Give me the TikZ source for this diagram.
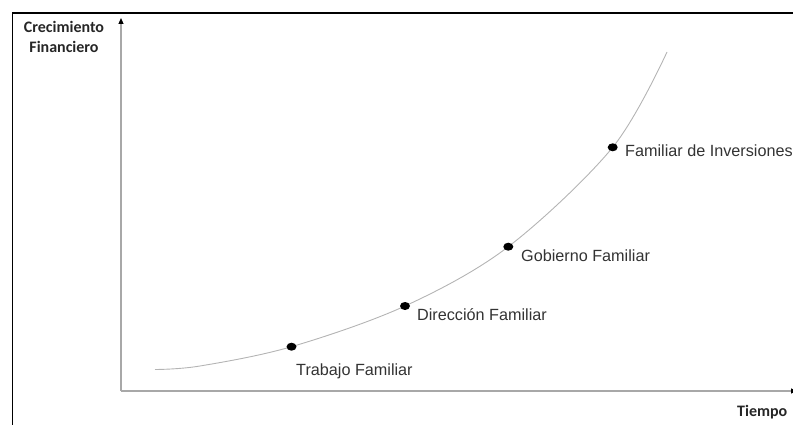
\documentclass[tikz,border=0pt]{standalone}
\usepackage{fontspec}
\setmainfont{Liberation Sans}
\newfontfamily\titlefont{Carlito}
\usetikzlibrary{arrows.meta,shapes.geometric}
\definecolor{axisgray}{HTML}{A8A8A8}
\definecolor{curvegray}{HTML}{B4B4B4}
\definecolor{labelgray}{HTML}{333333}
\tikzset{
  frameline/.style={line width=1.6pt, black},
  axisline/.style={line width=1.1pt, axisgray, -{Triangle[length=6pt,width=5pt,color=black]}},
  growth/.style={line width=0.9pt, curvegray},
  stagedot/.style={ellipse, fill=black, inner sep=0pt, minimum width=10pt, minimum height=8pt},
  stagelabel/.style={anchor=base west, inner sep=0pt, text=labelgray, font=\fontsize{16.2}{19}\selectfont},
  axislabel/.style={inner sep=0pt, anchor=base, text=black!85, font=\titlefont\bfseries\fontsize{16}{20}\selectfont}
}
\begin{document}
\begin{tikzpicture}[x=1pt,y=-1pt]
\useasboundingbox (0,0) rectangle (793,425);
% outer frame (top and left edges)
\coordinate (fa) at (12.5,13);
\coordinate (fb) at (800,13);
\coordinate (fc) at (12.5,430);
\draw[frameline] (fc) -- (fa) -- (fb);
% axes
\coordinate (o) at (121,391);
\coordinate (ytop) at (121,18);
\coordinate (xend) at (797,391);
\draw[axisline] (o) -- (ytop);
\draw[axisline] (o) -- (xend);
% growth curve through the stages
\coordinate (c0) at (155,369.5);
\coordinate (c1) at (200,366);
\coordinate (p1) at (291.5,346.7);
\coordinate (p2) at (405,306);
\coordinate (p3) at (508.3,246.7);
\coordinate (p4) at (612.7,147.3);
\coordinate (c5) at (667,52);
\draw[growth] plot[smooth, tension=0.55] coordinates {(c0) (c1) (p1) (p2) (p3) (p4) (c5)};
\node[stagedot] (s1) at (p1) {};
\node[stagedot] (s2) at (p2) {};
\node[stagedot] (s3) at (p3) {};
\node[stagedot] (s4) at (p4) {};
% stage names
\node[stagelabel] (l1) at (296,375.5) {Trabajo Familiar};
\node[stagelabel] (l2) at (417,320) {Dirección Familiar};
\node[stagelabel] (l3) at (521,261.7) {Gobierno Familiar};
\node[stagelabel] (l4) at (625,157) {Familiar de Inversiones};
% axis titles
\node[axislabel] (yl1) at (64,33) {Crecimiento};
\node[axislabel] (yl2) at (64,53) {Financiero};
\node[axislabel, anchor=base west] (xl) at (737,416) {Tiempo};
\end{tikzpicture}
\end{document}
